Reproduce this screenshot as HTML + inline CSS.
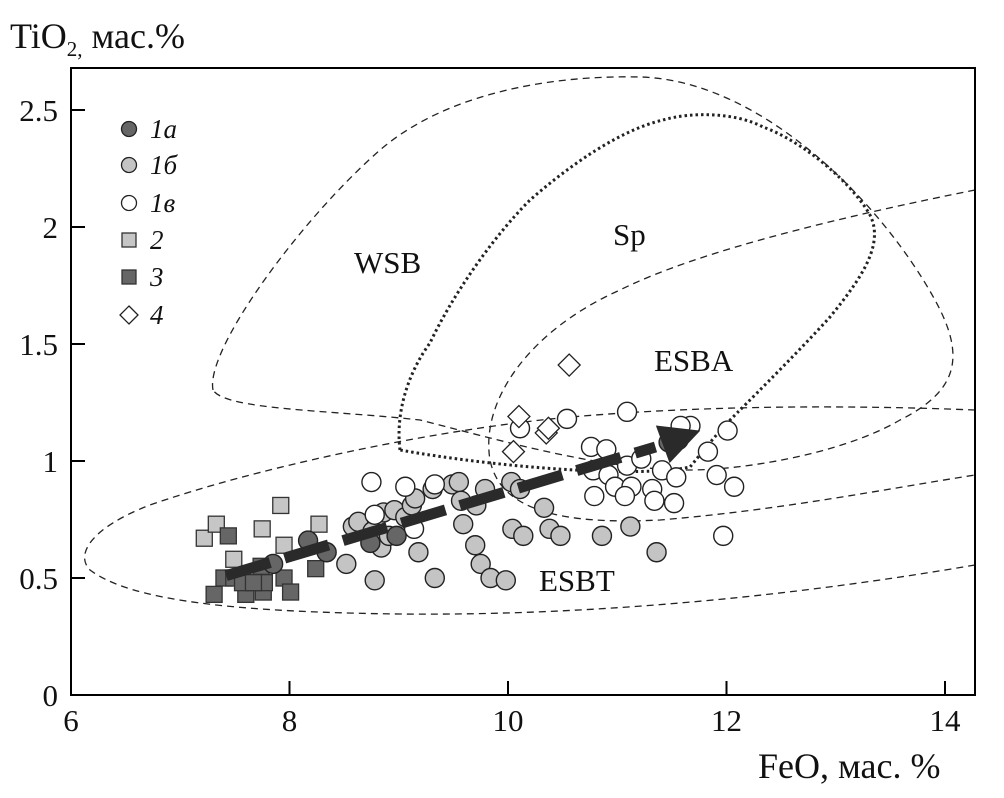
<!DOCTYPE html>
<html><head><meta charset="utf-8"><style>
body{margin:0;background:#fff}
svg{display:block}
text{font-family:"Liberation Serif",serif;fill:#111}
</style></head><body>
<svg id="chart" width="1004" height="798" viewBox="0 0 1004 798" xmlns="http://www.w3.org/2000/svg">
<rect x="0" y="0" width="1004" height="798" fill="#fff"/>
<g id="fields" fill="none" stroke="#222" stroke-width="1.3">
<path stroke-dasharray="7,5" d="M213,390 C205,350 300,220 380,150 C450,90 560,75 640,77 C760,80 880,200 935,300 C965,355 960,390 900,420 C840,455 740,470 690,470 C600,470 500,440 420,420 C330,410 225,410 213,390 Z"/>
<path stroke-dasharray="2.5,3" stroke-width="3" d="M400,450 C395,410 410,370 430,343 C450,300 490,240 530,200 C570,165 620,130 663,120 C690,112 735,112 763,127 C800,140 850,180 870,215 C885,245 860,280 830,317 C800,350 760,390 737,413 C715,435 700,455 690,467 C640,478 500,468 400,450 Z"/>
<path stroke-dasharray="7,5" d="M975,190 C850,215 700,250 620,290 C530,330 480,400 490,460 C500,510 560,525 660,520 C780,510 880,490 975,475"/>
<path stroke-dasharray="7,5" d="M975,410 C850,405 700,405 560,418 C420,432 250,470 150,505 C90,528 75,555 90,570 C130,600 230,612 400,614 C600,616 800,595 975,565"/>
</g>
<g id="labels">
<text x="354" y="273" font-size="31">WSB</text>
<text x="613" y="245" font-size="31">Sp</text>
<text x="654" y="371" font-size="31">ESBA</text>
<text x="539" y="591" font-size="31">ESBT</text>
</g>
<g id="marks"></g>
<g id="arrow"></g>
<rect x="71" y="68" width="904" height="627" fill="none" stroke="#000" stroke-width="2"/>
<g id="axes"></g>
<text x="10" y="48" font-size="36">TiO<tspan font-size="21" dy="8">2,</tspan><tspan dy="-8"> мас.%</tspan></text>
<text x="758" y="778" font-size="36">FeO, мас. %</text>
<g id="legend"></g>
</svg>
<script>
const xTicks=[6,8,10,12,14];
const yTicks=[0,0.5,1,1.5,2,2.5];
const yTickLabels=["0","0.5","1","1.5","2","2.5"];
const s1aX=[7.85,8.17,8.34,8.74,8.98,11.47,11.56];
const s1aY=[0.56,0.66,0.61,0.65,0.68,1.08,1.09];
const s1bX=[8.52,8.58,8.63,8.76,8.78,8.84,8.86,8.91,8.96,9.06,9.12,9.15,9.18,9.31,9.33,9.49,9.55,9.57,9.59,9.70,9.71,9.75,9.79,9.84,9.98,10.03,10.11,10.04,10.14,10.33,10.38,10.48,10.86,11.12,11.36];
const s1bY=[0.56,0.72,0.74,0.70,0.49,0.63,0.78,0.68,0.79,0.76,0.81,0.84,0.61,0.88,0.50,0.90,0.91,0.83,0.73,0.64,0.81,0.56,0.88,0.50,0.49,0.91,0.88,0.71,0.68,0.80,0.71,0.68,0.68,0.72,0.61];
const s1vX=[8.75,8.78,9.06,9.14,9.33,10.11,10.54,11.09,10.76,10.90,10.78,10.92,10.79,10.98,11.09,11.13,11.07,11.22,11.32,11.34,11.41,11.52,11.54,11.67,11.58,11.83,11.91,12.01,12.07,11.97];
const s1vY=[0.91,0.77,0.89,0.71,0.90,1.14,1.18,1.21,1.06,1.05,0.96,0.94,0.85,0.89,0.98,0.89,0.85,1.01,0.88,0.83,0.96,0.82,0.93,1.15,1.15,1.04,0.94,1.13,0.89,0.68];
const s2X=[7.22,7.33,7.49,7.75,7.92,7.95,8.27];
const s2Y=[0.67,0.73,0.58,0.71,0.81,0.64,0.73];
const s3X=[7.44,7.40,7.49,7.31,7.60,7.76,7.77,7.74,7.95,8.01,8.24,7.57,7.67];
const s3Y=[0.68,0.50,0.50,0.43,0.43,0.44,0.48,0.55,0.50,0.44,0.54,0.48,0.48];
const s4X=[10.56,10.10,10.35,10.05,10.37];
const s4Y=[1.41,1.19,1.12,1.04,1.14];
const trendX=[7.42,11.35,11.76];
const trendY=[0.51,1.06,1.13];
const legendLabels=["1a","1б","1в","2","3","4"];

const NS="http://www.w3.org/2000/svg";
function X(v){return 71+(v-6)*109.25;}
function Y(v){return 695-v*234;}
function mk(tag,attrs,parent){const e=document.createElementNS(NS,tag);for(const k in attrs)e.setAttribute(k,attrs[k]);parent.appendChild(e);return e;}
const axes=document.getElementById('axes');
xTicks.forEach(t=>{
 const l=mk('line',{x1:X(t),x2:X(t),y1:695,y2:681,stroke:'#000','stroke-width':2},axes);
 
 
 const tx=mk('text',{x:X(t),y:731,'font-size':31,'text-anchor':'middle'},axes);tx.textContent=t;
 
 
});
yTicks.forEach((t,i)=>{
 const l=mk('line',{x1:71,x2:85,y1:Y(t),y2:Y(t),stroke:'#000','stroke-width':2},axes);
 
 
 const tx=mk('text',{x:58,y:Y(t)+11,'font-size':31,'text-anchor':'end'},axes);tx.textContent=yTickLabels[i];
 
 
});
const marks=document.getElementById('marks');
function circle(cx,cy,fill,parent,name){const c=mk('circle',{cx:cx,cy:cy,r:9.5,fill:fill,stroke:'#222','stroke-width':1.4},parent);return c;}
function square(cx,cy,fill,parent,name){const c=mk('rect',{x:cx-8,y:cy-8,width:16,height:16,fill:fill,stroke:'#333','stroke-width':1.3},parent);return c;}
function diamond(cx,cy,parent,name){const c=mk('path',{d:`M${cx},${cy-11}L${cx+11},${cy}L${cx},${cy+11}L${cx-11},${cy}Z`,fill:'#fff',stroke:'#222','stroke-width':1.3},parent);return c;}
s2X.forEach((v,i)=>square(X(v),Y(s2Y[i]),'#c6c6c6',marks,'point-2'));
s3X.forEach((v,i)=>square(X(v),Y(s3Y[i]),'#666',marks,'point-3'));
s1bX.forEach((v,i)=>circle(X(v),Y(s1bY[i]),'#c4c4c4',marks,'point-1b'));
s1vX.forEach((v,i)=>circle(X(v),Y(s1vY[i]),'#fff',marks,'point-1v'));
s1aX.forEach((v,i)=>circle(X(v),Y(s1aY[i]),'#666',marks,'point-1a'));
s4X.forEach((v,i)=>diamond(X(v),Y(s4Y[i]),marks,'point-4'));
const ar=document.getElementById('arrow');
const shaft=mk('line',{x1:X(trendX[0]),y1:Y(trendY[0]),x2:X(trendX[1]),y2:Y(trendY[1]),stroke:'#2a2a2a','stroke-width':11,'stroke-dasharray':'46,15'},ar);


const tx=X(trendX[2]),ty=Y(trendY[2]),bx=X(trendX[1]),by=Y(trendY[1]);
const dx=tx-bx,dy=ty-by,L=Math.hypot(dx,dy),ux=dx/L,uy=dy/L;
const back=40,half=20;
const b1x=tx-ux*back,b1y=ty-uy*back;
const head=mk('path',{d:`M${tx},${ty}L${b1x-uy*half},${b1y+ux*half}L${b1x+uy*half},${b1y-ux*half}Z`,fill:'#2a2a2a'},ar);


const lg=document.getElementById('legend');
const rows=[129,165,203,240,277,315];
const fills=['#666','#c4c4c4','#fff','#c6c6c6','#666','#fff'];
legendLabels.forEach((lab,i)=>{
 const y=rows[i];
 if(i<3){const c=mk('circle',{cx:129,cy:y,r:7.5,fill:fills[i],stroke:'#222','stroke-width':1.3},lg);}
 else if(i<5){const c=mk('rect',{x:122,y:y-7,width:14,height:14,fill:fills[i],stroke:'#333','stroke-width':1.3},lg);}
 else{const c=mk('path',{d:`M129,${y-9}L138,${y}L129,${y+9}L120,${y}Z`,fill:'#fff',stroke:'#222','stroke-width':1.3},lg);}
 const t=mk('text',{x:150,y:y+9,'font-size':27,'font-style':'italic'},lg);t.textContent=lab;
 
 
});
</script>
</body></html>
